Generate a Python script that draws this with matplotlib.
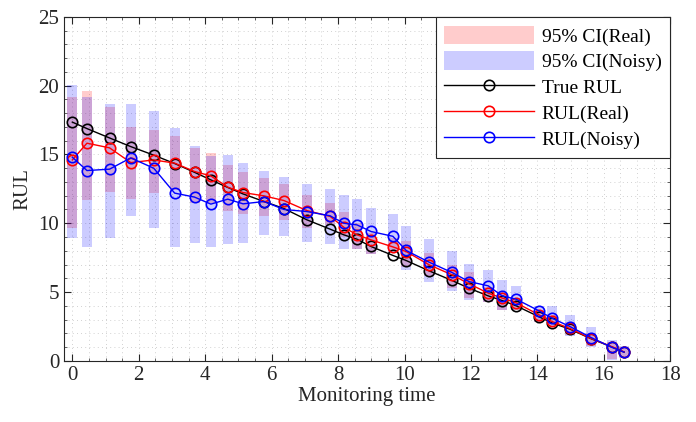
import numpy as np
import matplotlib
matplotlib.use('Agg')
import matplotlib.pyplot as plt
from matplotlib.ticker import MultipleLocator

# monitoring times
t = [0, 0.44, 1.12, 1.76, 2.45, 3.08, 3.68, 4.17, 4.68, 5.14, 5.77, 6.37, 7.06, 7.76, 8.17, 8.57,
     8.99, 9.65, 10.05, 10.74, 11.43, 11.94, 12.52, 12.94, 13.36, 14.05, 14.44, 14.98, 15.62, 16.25, 16.61]

# RUL curves
rul_true = [17.35, 16.88, 16.2, 15.57, 14.95, 14.34, 13.7, 13.15, 12.6, 12.13, 11.58, 11.07, 10.25, 9.57, 9.16, 8.84,
            8.31, 7.66, 7.29, 6.54, 5.84, 5.28, 4.72, 4.38, 4.0, 3.2, 2.75, 2.3, 1.6, 1.0, 0.63]
rul_real = [14.6, 15.82, 15.48, 14.41, 14.6, 14.37, 13.76, 13.44, 12.62, 12.23, 11.99, 11.65, 10.92, 10.5, 9.71, 9.16,
            8.79, 8.28, 7.94, 6.98, 6.25, 5.6, 4.92, 4.56, 4.22, 3.34, 2.86, 2.35, 1.62, 1.02, 0.65]
rul_noisy = [14.8, 13.83, 13.93, 14.75, 14.0, 12.19, 11.9, 11.39, 11.75, 11.41, 11.58, 11.0, 10.85, 10.54, 10.0, 9.88,
             9.4, 9.05, 8.02, 7.17, 6.42, 5.76, 5.45, 4.72, 4.48, 3.63, 3.1, 2.49, 1.69, 0.97, 0.63]

# 95% confidence bounds
real_lo = [9.64, 11.7, 12.28, 11.77, 12.23, 12.4, 11.5, 11.46, 10.9, 10.68, 10.54, 10.25, 9.64, 9.9, 9.0, 8.12,
           7.78, 7.95, 6.8, 6.13, 5.28, 4.56, 4.31, 3.7, 3.7, 2.8, 2.55, 1.85, 1.1, 0.1, 0.25]
real_hi = [19.2, 19.6, 18.44, 17.03, 16.79, 16.35, 15.5, 15.09, 14.24, 13.7, 13.28, 12.86, 12.06, 11.5, 10.85, 10.0,
           9.3, 8.9, 8.7, 7.83, 6.98, 6.42, 5.4, 4.92, 4.6, 3.7, 3.3, 2.8, 2.0, 1.4, 1.0]
noisy_lo = [8.96, 8.24, 8.96, 10.56, 9.69, 8.24, 8.55, 8.3, 8.5, 8.55, 9.16, 9.1, 8.6, 8.5, 8.1, 8.12,
            7.75, 7.94, 6.6, 5.76, 5.04, 4.43, 4.31, 3.7, 3.7, 2.79, 2.54, 1.82, 1.04, 0.07, 0.22]
noisy_hi = [20.06, 19.16, 18.68, 18.68, 18.17, 16.91, 15.62, 14.9, 14.97, 14.35, 13.81, 13.38, 12.88, 12.5, 12.06, 11.77,
            11.1, 10.7, 9.81, 8.87, 7.99, 7.05, 6.61, 5.89, 5.45, 4.02, 4.0, 3.34, 2.49, 1.53, 1.09]

plt.rcParams['font.family'] = ['Liberation Serif', 'DejaVu Serif']

fig = plt.figure(figsize=(6.96, 4.22), dpi=100)
ax = fig.add_axes([0.092, 0.145, 0.871, 0.815])

t = np.array(t)
real_lo = np.array(real_lo); real_hi = np.array(real_hi)
noisy_lo = np.array(noisy_lo); noisy_hi = np.array(noisy_hi)

b1 = ax.bar(t, real_hi - real_lo, bottom=real_lo, width=0.3, color='red', alpha=0.2,
            linewidth=0, label='95% CI(Real)', zorder=2)
b2 = ax.bar(t, noisy_hi - noisy_lo, bottom=noisy_lo, width=0.3, color='blue', alpha=0.2,
            linewidth=0, label='95% CI(Noisy)', zorder=2)

l1, = ax.plot(t, rul_true, 'o-', color='black', lw=1, ms=7.5, mfc='none', mew=1.2, label='True RUL', zorder=3)
l2, = ax.plot(t, rul_real, 'o-', color='red', lw=1, ms=7.5, mfc='none', mew=1.2, label='RUL(Real)', zorder=4)
l3, = ax.plot(t, rul_noisy, 'o-', color='blue', lw=1, ms=7.5, mfc='none', mew=1.2, label='RUL(Noisy)', zorder=5)

ax.set_xlim(-0.25, 18)
ax.set_ylim(0, 25)
ax.xaxis.set_major_locator(MultipleLocator(2))
ax.xaxis.set_minor_locator(MultipleLocator(0.5))
ax.yaxis.set_major_locator(MultipleLocator(5))
ax.yaxis.set_minor_locator(MultipleLocator(1))

ax.grid(which='both', color='#999999', linestyle=(0, (1, 4)), linewidth=0.6, alpha=0.6)
ax.set_axisbelow(True)

ax.tick_params(which='major', direction='in', length=5, width=0.8, labelsize=15,
               top=True, right=True, colors='#262626')
ax.tick_params(which='minor', direction='in', length=2.5, width=0.5, top=True, right=True, colors='#262626')
for s in ax.spines.values():
    s.set_color('#262626')
    s.set_linewidth(0.8)

ax.set_xlabel('Monitoring time', fontsize=15, color='#262626', labelpad=2)
ax.set_ylabel('RUL', fontsize=15, color='#262626', labelpad=4)

leg = ax.legend([b1, b2, l1, l2, l3], ['95% CI(Real)', '95% CI(Noisy)', 'True RUL', 'RUL(Real)', 'RUL(Noisy)'],
                loc='upper right', fontsize=14, borderaxespad=0, fancybox=False, framealpha=1,
                edgecolor='#262626', handlelength=4.6, handleheight=1.1, labelspacing=0.3,
                borderpad=0.45, handletextpad=0.4)
leg.get_frame().set_linewidth(0.8)

fig.savefig('out.png', dpi=100)
